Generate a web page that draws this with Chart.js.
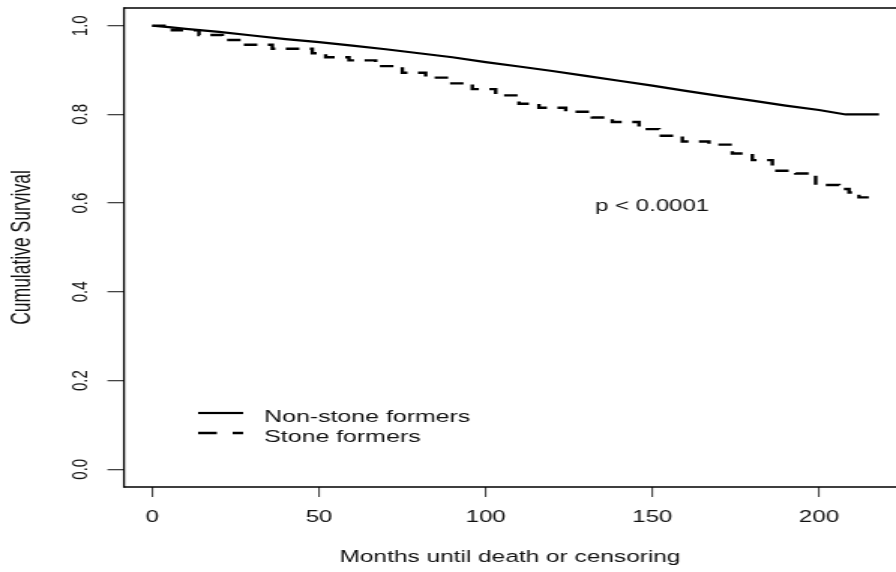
<!DOCTYPE html>
<html>
<head>
<meta charset="utf-8">
<script src="https://cdn.jsdelivr.net/npm/chart.js@4/dist/chart.umd.min.js"></script>
<style>
html,body{margin:0;padding:0;background:#fff;overflow:hidden;}
</style>
</head>
<body>
<canvas id="c" width="597" height="572" style="display:block;width:896px;height:572px;"></canvas>
<script>
// ---- data ----
const seriesLabels = ['Non-stone formers', 'Stone formers'];
const nonStoneMonths = [0, 5, 10, 20, 30, 40, 50, 60, 70, 80, 90, 100, 110, 120, 130, 140, 150, 160, 170, 180, 190, 200, 208, 218];
const nonStoneSurv   = [1.000, 0.997, 0.993, 0.986, 0.978, 0.970, 0.963, 0.955, 0.947, 0.938, 0.929, 0.918, 0.908, 0.898, 0.887, 0.876, 0.865, 0.853, 0.842, 0.831, 0.820, 0.810, 0.800, 0.800];
const stoneMonths = [0, 6, 14, 21, 28, 36, 48, 52, 59, 67, 75, 82, 89, 96, 103, 110, 116, 124, 132, 138, 146, 152, 159, 167, 174, 180, 186, 193, 199, 206, 209, 212, 218];
const stoneSurv   = [1.000, 0.990, 0.979, 0.968, 0.957, 0.948, 0.938, 0.929, 0.922, 0.909, 0.894, 0.883, 0.870, 0.857, 0.843, 0.824, 0.815, 0.806, 0.793, 0.783, 0.767, 0.752, 0.739, 0.732, 0.712, 0.697, 0.673, 0.667, 0.641, 0.632, 0.624, 0.613, 0.613];
const xTicks = [0, 50, 100, 150, 200];
const xTickLabels = ['0', '50', '100', '150', '200'];
const yTicks = [0, 0.2, 0.4, 0.6, 0.8, 1.0];
const yTickLabels = ['0.0', '0.2', '0.4', '0.6', '0.8', '1.0'];
const xTitle = 'Months until death or censoring';
const yTitle = 'Cumulative Survival';
const pText = 'p < 0.0001';
const pAt = [132.8, 0.583];

const FONT = '"Liberation Sans", Arial, sans-serif';
const TXT = '#111';

const overlay = {
  id: 'overlay',
  beforeDraw(chart) {
    const ctx = chart.ctx;
    ctx.save();
    ctx.fillStyle = '#fff';
    ctx.fillRect(0, 0, chart.width, chart.height);
    ctx.restore();
  },
  afterDraw(chart) {
    const ctx = chart.ctx;
    const a = chart.chartArea;
    const x = chart.scales.x, y = chart.scales.y;
    ctx.save();
    // plot box (left, top, bottom; right edge is outside the picture)
    ctx.strokeStyle = '#000';
    ctx.lineWidth = 1.6;
    ctx.beginPath();
    ctx.moveTo(a.left, a.top); ctx.lineTo(a.right + 2, a.top);
    ctx.moveTo(a.left, a.bottom); ctx.lineTo(a.right + 2, a.bottom);
    ctx.stroke();
    ctx.lineWidth = 1.3;
    ctx.beginPath();
    ctx.moveTo(a.left, a.top - 0.8); ctx.lineTo(a.left, a.bottom + 0.8);
    ctx.stroke();

    // rotated y tick labels
    ctx.fillStyle = TXT;
    ctx.font = '15px ' + FONT;
    ctx.textAlign = 'center';
    ctx.textBaseline = 'middle';
    yTicks.forEach((v, i) => {
      const py = y.getPixelForValue(v);
      ctx.save();
      ctx.translate(a.left - 28.6, py);
      ctx.rotate(-Math.PI / 2);
      ctx.fillText(yTickLabels[i], 0, 0);
      ctx.restore();
    });

    // legend
    const ds = chart.data.datasets;
    const rows = [413, 433];
    const base = [421.5, 441.5];
    const dashes = [[], [12.5, 10.5]];
    ds.forEach((d, i) => {
      ctx.save();
      ctx.strokeStyle = d.borderColor;
      ctx.lineWidth = d.borderWidth;
      ctx.setLineDash(dashes[i]);
      ctx.beginPath();
      ctx.moveTo(132, rows[i]); ctx.lineTo(162, rows[i]);
      ctx.stroke();
      ctx.restore();
      ctx.fillStyle = TXT;
      ctx.font = '16.6px ' + FONT;
      ctx.textAlign = 'left';
      ctx.textBaseline = 'alphabetic';
      ctx.fillText(d.label, 176, base[i]);
    });

    // p value annotation
    ctx.fillStyle = TXT;
    ctx.font = '16px ' + FONT;
    ctx.textAlign = 'left';
    ctx.textBaseline = 'alphabetic';
    ctx.fillText(pText, x.getPixelForValue(pAt[0]), y.getPixelForValue(pAt[1]));
    ctx.restore();
  }
};

new Chart(document.getElementById('c'), {
  type: 'line',
  data: {
    datasets: [
      {
        label: seriesLabels[0],
        data: nonStoneMonths.map((m, i) => ({x: m, y: nonStoneSurv[i]})),
        borderColor: '#000', borderWidth: 2.2, pointRadius: 0, fill: false, tension: 0, stepped: false
      },
      {
        label: seriesLabels[1],
        data: stoneMonths.map((m, i) => ({x: m, y: stoneSurv[i]})),
        borderColor: '#000', borderWidth: 2.4, borderDash: [9, 7], pointRadius: 0, fill: false, stepped: 'before'
      }
    ]
  },
  options: {
    responsive: false,
    animation: false,
    devicePixelRatio: 1,
    layout: {padding: {top: 8, right: 0, bottom: 0, left: 0}},
    plugins: {legend: {display: false}, tooltip: {enabled: false}},
    scales: {
      x: {
        type: 'linear', min: -8.5, max: 223.1,
        afterBuildTicks: s => { s.ticks = xTicks.map(v => ({value: v})); },
        afterFit: s => { s.height = 85; },
        grid: {display: true, drawOnChartArea: false, drawTicks: true, tickLength: 10, color: '#444', lineWidth: 1.1},
        border: {display: false},
        ticks: {padding: 11, color: TXT, font: {family: FONT, size: 16}, maxRotation: 0, minRotation: 0, autoSkip: false,
                callback: (v, i) => xTickLabels[i]},
        title: {display: true, text: xTitle, color: TXT, font: {family: FONT, size: 16.3}, padding: {top: 5, bottom: 5}}
      },
      y: {
        type: 'linear', min: -0.04, max: 1.04,
        afterBuildTicks: s => { s.ticks = yTicks.map(v => ({value: v})); },
        afterFit: s => { s.width = 82.6; },
        grid: {display: true, drawOnChartArea: false, drawTicks: true, tickLength: 11, color: '#444', lineWidth: 1.3},
        border: {display: false},
        ticks: {display: false},
        title: {display: true, text: yTitle, color: TXT, font: {family: FONT, size: 17.5}, padding: {top: 4.5, bottom: 4.5}}
      }
    }
  },
  plugins: [overlay]
});
</script>
</body>
</html>
